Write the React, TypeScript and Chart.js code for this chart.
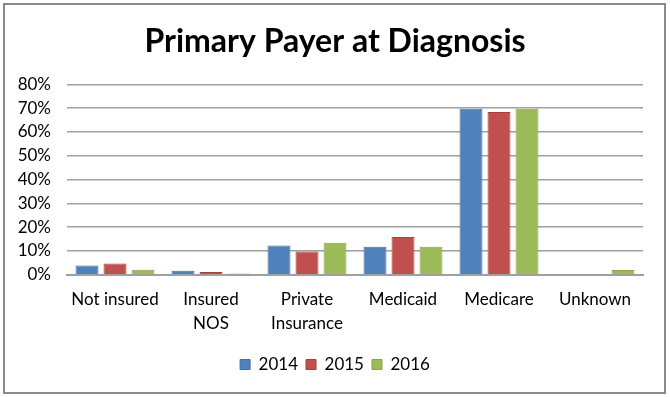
import React, { useEffect, useRef } from "react";
import { Chart, registerables } from "chart.js";

Chart.register(...registerables);

const categories: (string | string[])[] = [
  "Not insured",
  ["Insured", "NOS"],
  ["Private", "Insurance"],
  "Medicaid",
  "Medicare",
  "Unknown",
];
const series2014 = [3.9, 1.7, 12.3, 11.7, 69.8, 0];
const series2015 = [4.7, 1.1, 9.8, 15.9, 68.4, 0];
const series2016 = [2.1, 0.5, 13.4, 11.7, 69.8, 2.0];
const yTicks = [0, 10, 20, 30, 40, 50, 60, 70, 80];

const FONT = "Lato, 'Open Sans', sans-serif";

export default function App() {
  const ref = useRef<HTMLCanvasElement | null>(null);
  useEffect(() => {
    document.body.style.margin = "0";
    const ctx = ref.current!;
    const chart = new Chart(ctx, {
      type: "bar",
      data: {
        labels: categories,
        datasets: [
          { label: "2014", data: series2014, backgroundColor: "#4F81BD", borderColor: "#41719F", borderWidth: 1, borderSkipped: "bottom" },
          { label: "2015", data: series2015, backgroundColor: "#C0504D", borderColor: "#A83F3C", borderWidth: 1, borderSkipped: "bottom" },
          { label: "2016", data: series2016, backgroundColor: "#9BBB59", borderColor: "#87A64A", borderWidth: 1, borderSkipped: "bottom" },
        ],
      },
      options: {
        animation: false,
        responsive: false,
        maintainAspectRatio: false,
        datasets: { bar: { categoryPercentage: 0.875, barPercentage: 0.82 } },
        layout: { padding: { left: 12, right: 12, top: 0, bottom: 14 } },
        plugins: {
          title: {
            display: true,
            text: "Primary Payer at Diagnosis",
            color: "#000",
            font: { family: FONT, size: 32, weight: "bold" },
            padding: { top: 22, bottom: 24 },
          },
          legend: {
            position: "bottom",
            labels: {
              boxWidth: 10,
              boxHeight: 10,
              color: "#000",
              font: { family: FONT, size: 17 },
              padding: 8,
            },
          },
          tooltip: { enabled: false },
        },
        scales: {
          x: {
            grid: { display: false },
            border: { display: true, color: "#a0a0a0", width: 2 },
            ticks: {
              color: "#000",
              font: { family: FONT, size: 17, lineHeight: 1.45 },
              maxRotation: 0,
              autoSkip: false,
              padding: 4,
            },
            afterFit: (axis: any) => {
              axis.height = axis.height + 8;
            },
          },
          y: {
            min: 0,
            max: 80,
            afterBuildTicks: (axis: any) => {
              axis.ticks = yTicks.map((v) => ({ value: v }));
            },
            afterFit: (axis: any) => {
              axis.width = 55;
            },
            grid: { color: "#a0a0a0", lineWidth: 1.5, drawTicks: false },
            border: { display: false },
            ticks: {
              color: "#000",
              font: { family: FONT, size: 17 },
              padding: 16,
              autoSkip: false,
              callback: (v: any) => v + "%",
            },
          },
          yRight: {
            type: "linear",
            position: "right",
            display: true,
            grid: { display: false, drawTicks: false },
            border: { display: false },
            ticks: { display: false },
            afterFit: (axis: any) => {
              axis.width = 15;
            },
          },
        },
      },
    });
    return () => chart.destroy();
  }, []);
  return (
    <div style={{ position: "relative", width: 670, height: 397, background: "#fff" }}>
      <canvas ref={ref} width={670} height={397} style={{ position: "absolute", left: 0, top: 0 }} />
      <div
        style={{
          position: "absolute",
          left: 3,
          top: 3,
          width: 659,
          height: 387,
          border: "2px solid #8a8a8a",
          pointerEvents: "none",
        }}
      />
    </div>
  );
}
